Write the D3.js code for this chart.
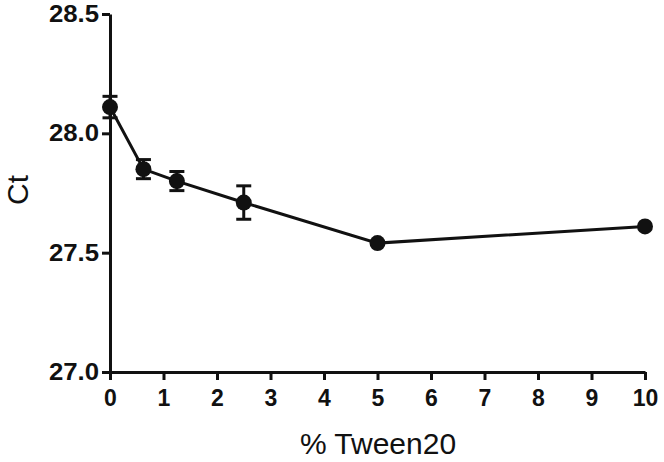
<!DOCTYPE html>
<html>
<head>
<meta charset="UTF-8">
<script src="https://d3js.org/d3.v7.min.js"></script>
<style>
  body { margin: 0; background: #fff; }
  svg { display: block; font-family: "Liberation Sans", Arial, sans-serif; }
  .tick text { font-weight: bold; font-size: 23px; fill: #111; }
  .axis-title { font-size: 30px; fill: #111; }
</style>
</head>
<body>
<div id="chart"></div>
<script>
// Tween20 concentration (%) vs Ct
const tween = [0, 0.625, 1.25, 2.5, 5, 10];
const ct = [28.11, 27.85, 27.80, 27.71, 27.54, 27.61];
const sem = [0.045, 0.04, 0.04, 0.07, 0, 0];
const xTicks = d3.range(0, 11);
const yTicks = [27.0, 27.5, 28.0, 28.5];

const width = 664, height = 462;
const margin = { top: 14, right: 19, bottom: 90, left: 110 };

const svg = d3.select("#chart").append("svg")
  .attr("width", width)
  .attr("height", height);

const x = d3.scaleLinear().domain([0, 10]).range([margin.left, width - margin.right]);
const y = d3.scaleLinear().domain([27, 28.5]).range([height - margin.bottom, margin.top]);

// axes
const xAxis = svg.append("g")
  .attr("transform", `translate(0,${y(27)})`)
  .call(d3.axisBottom(x).tickValues(xTicks).tickFormat(d3.format("d")).tickSize(8).tickSizeOuter(0).tickPadding(10));

const yAxis = svg.append("g")
  .attr("transform", `translate(${x(0)},0)`)
  .call(d3.axisLeft(y).tickValues(yTicks).tickFormat(d3.format(".1f")).tickSize(8).tickSizeOuter(0).tickPadding(3));

svg.selectAll(".domain, .tick line")
  .attr("stroke", "#111")
  .attr("stroke-width", 3);

// y tick labels look a bit wider in the reference
yAxis.selectAll(".tick text").each(function() {
  const w = this.getComputedTextLength();
  d3.select(this).attr("textLength", w * 1.12).attr("lengthAdjust", "spacingAndGlyphs");
});

// line
const pts = tween.map((t, i) => ({ x: t, y: ct[i], e: sem[i] }));
svg.append("path")
  .datum(pts)
  .attr("fill", "none")
  .attr("stroke", "#111")
  .attr("stroke-width", 3)
  .attr("d", d3.line().x(d => x(d.x)).y(d => y(d.y)));

// error bars
const eb = svg.append("g").selectAll("g")
  .data(pts.filter(d => d.e > 0))
  .join("g")
  .attr("stroke", "#111")
  .attr("stroke-width", 3);

eb.append("line")
  .attr("x1", d => x(d.x)).attr("x2", d => x(d.x))
  .attr("y1", d => y(d.y - d.e)).attr("y2", d => y(d.y + d.e));
eb.append("line")
  .attr("x1", d => x(d.x) - 7.5).attr("x2", d => x(d.x) + 7.5)
  .attr("y1", d => y(d.y + d.e)).attr("y2", d => y(d.y + d.e));
eb.append("line")
  .attr("x1", d => x(d.x) - 7.5).attr("x2", d => x(d.x) + 7.5)
  .attr("y1", d => y(d.y - d.e)).attr("y2", d => y(d.y - d.e));

// markers
svg.append("g").selectAll("circle")
  .data(pts)
  .join("circle")
  .attr("cx", d => x(d.x))
  .attr("cy", d => y(d.y))
  .attr("r", 8)
  .attr("fill", "#111");

// axis titles
svg.append("text")
  .attr("class", "axis-title")
  .attr("x", 378)
  .attr("y", 454)
  .attr("text-anchor", "middle")
  .text("% Tween20");

svg.append("text")
  .attr("class", "axis-title")
  .attr("transform", "translate(28,190) rotate(-90)")
  .attr("text-anchor", "middle")
  .text("Ct");
</script>
</body>
</html>
